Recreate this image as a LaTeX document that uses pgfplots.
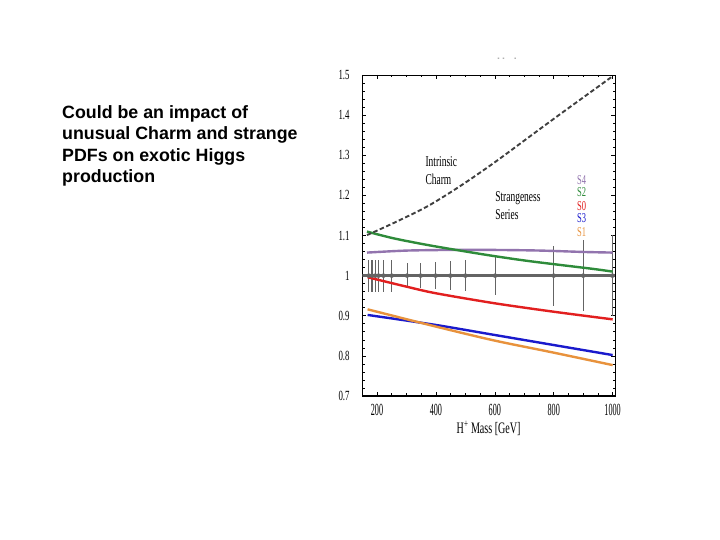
\documentclass[border=0pt]{standalone}
\usepackage{fontspec}
\setmainfont{Liberation Sans}
\newfontfamily\condA[FakeStretch=0.48]{Liberation Serif}
\newfontfamily\condB[FakeStretch=0.63]{Liberation Serif}
\usepackage{pgfplots}
\pgfplotsset{compat=1.18}
\definecolor{cgreen}{HTML}{2E8B3A}
\definecolor{cpurple}{HTML}{9274AE}
\definecolor{cred}{HTML}{E21F1F}
\definecolor{cblue}{HTML}{1A1ACC}
\definecolor{corange}{HTML}{E8923C}
\definecolor{cdash}{HTML}{404040}
\definecolor{cgray}{HTML}{646464}
\begin{document}
\begin{tikzpicture}
\path[fill=white, use as bounding box] (0pt,0pt) rectangle (720pt,540pt);
\node[anchor=base west, font=\fontsize{17.8}{21.5}\selectfont\bfseries, inner sep=0pt] at (62pt,421.7pt) {Could be an impact of};
\node[anchor=base west, font=\fontsize{17.8}{21.5}\selectfont\bfseries, inner sep=0pt] at (62pt,400.2pt) {unusual Charm and strange};
\node[anchor=base west, font=\fontsize{17.8}{21.5}\selectfont\bfseries, inner sep=0pt] at (62pt,378.7pt) {PDFs on exotic Higgs};
\node[anchor=base west, font=\fontsize{17.8}{21.5}\selectfont\bfseries, inner sep=0pt] at (62pt,357.2pt) {production};
\node[anchor=base, font=\condA\fontsize{12}{12}\selectfont, text=gray, inner sep=0pt] at (507pt,478pt) {-\hspace{3pt}-\hspace{10pt}-};
\begin{axis}[
  at={(362.3pt,144pt)}, anchor=south west,
  scale only axis, width=252.7pt, height=321pt,
  xmin=150, xmax=1008, ymin=0.7, ymax=1.5,
  xtick={200,400,600,800,1000},
  xticklabels={200,400,600,800,1000},
  minor xtick={150,250,300,350,450,500,550,650,700,750,850,900,950},
  ytick={0.7,0.8,0.9,1,1.1,1.2,1.3,1.4,1.5},
  yticklabels={0.7,0.8,0.9,1,1.1,1.2,1.3,1.4,1.5},
  minor y tick num=4,
  tick align=inside,
  major tick length=4pt, minor tick length=2.5pt,
  tick style={black, line width=0.6pt},
  axis line style={black, line width=0.7pt},
  /pgf/number format/assume math mode=true,
  xticklabel style={font=\condA\fontsize{17}{17}\selectfont, anchor=base, inner sep=0pt, yshift=-19.5pt},
  yticklabel style={font=\condB\fontsize{14}{14}\selectfont, anchor=east, inner sep=0pt, xshift=-12.5pt},
  xlabel={H\textsuperscript{+} Mass [GeV]},
  xlabel style={font=\condB\fontsize{16}{16}\selectfont, at={(axis description cs:0.5,0)}, anchor=base, inner sep=0pt, yshift=-37.5pt},
  clip=true,
]
% error bands on the reference line
\addplot[cgray, only marks, mark=none, forget plot,
  error bars/.cd, y dir=both, y explicit, error mark=none,
  error bar style={line width=1.1pt, cgray}]
  coordinates {
  (172,1) +- (0,0.04) (183,1) +- (0,0.04) (194,1) +- (0,0.04) (205,1) +- (0,0.04)
  (222,1) +- (0,0.04) (250,1) +- (0,0.04)
  (302,1) +- (0,0.031) (348,1) +- (0,0.032) (399,1) +- (0,0.034) (449,1) +- (0,0.036)
  (500,1) +- (0,0.038) (601,1) +- (0,0.049) (800,1) +- (0,0.075) (900,1) +- (0,0.089)
  (999,1) +- (0,0.1)
  };
\addplot[cgray, line width=2.6pt] coordinates {(150,1) (1008,1)};
% Strangeness series
\addplot[cpurple, line width=2.4pt, smooth] coordinates {
  (166,1.0574) (300,1.0624) (450,1.064) (600,1.064) (750,1.0625) (900,1.059) (1000,1.0574)};
\addplot[cgreen, line width=2.4pt, smooth] coordinates {
  (166,1.1097) (256,1.093) (369.5,1.0766) (482,1.0624) (595,1.049) (708,1.037) (821,1.0267) (934,1.0167) (1000,1.010)};
\addplot[cred, line width=2.4pt, smooth] coordinates {
  (168,0.996) (300,0.9725) (400,0.956) (600,0.931) (800,0.910) (1000,0.891)};
\addplot[cblue, line width=2.4pt, smooth] coordinates {
  (168,0.902) (400,0.877) (600,0.852) (800,0.827) (1000,0.802)};
\addplot[corange, line width=2.4pt, smooth] coordinates {
  (168,0.916) (400,0.873) (600,0.838) (800,0.808) (1000,0.777)};
% Intrinsic charm
\addplot[cdash, line width=1.9pt, dash pattern=on 4.5pt off 2.5pt, smooth] coordinates {
  (166,1.101) (256,1.131) (369.5,1.172) (482,1.223) (595,1.280) (708,1.341) (821,1.402) (934,1.462) (1000,1.497)};
\draw[black, line width=2pt] (rel axis cs:0,0) -- (rel axis cs:1,0);
\node[anchor=north west, align=left, inner sep=0pt, font=\condB\fontsize{15}{17.7}\selectfont] at (axis cs:364,1.296) {Intrinsic\\Charm};
\node[anchor=north west, align=left, inner sep=0pt, font=\condB\fontsize{15}{17.7}\selectfont] at (axis cs:601,1.210) {Strangeness\\Series};
\node[text=cpurple, inner sep=0pt, font=\condB\fontsize{13.5}{13.5}\selectfont] at (axis cs:895,1.2387) {S4};
\node[text=cgreen, inner sep=0pt, font=\condB\fontsize{13.5}{13.5}\selectfont] at (axis cs:895,1.2070) {S2};
\node[text=cred, inner sep=0pt, font=\condB\fontsize{13.5}{13.5}\selectfont] at (axis cs:895,1.1738) {S0};
\node[text=cblue, inner sep=0pt, font=\condB\fontsize{13.5}{13.5}\selectfont] at (axis cs:895,1.1431) {S3};
\node[text=corange, inner sep=0pt, font=\condB\fontsize{13.5}{13.5}\selectfont] at (axis cs:895,1.1082) {S1};
\end{axis}
\end{tikzpicture}
\end{document}
